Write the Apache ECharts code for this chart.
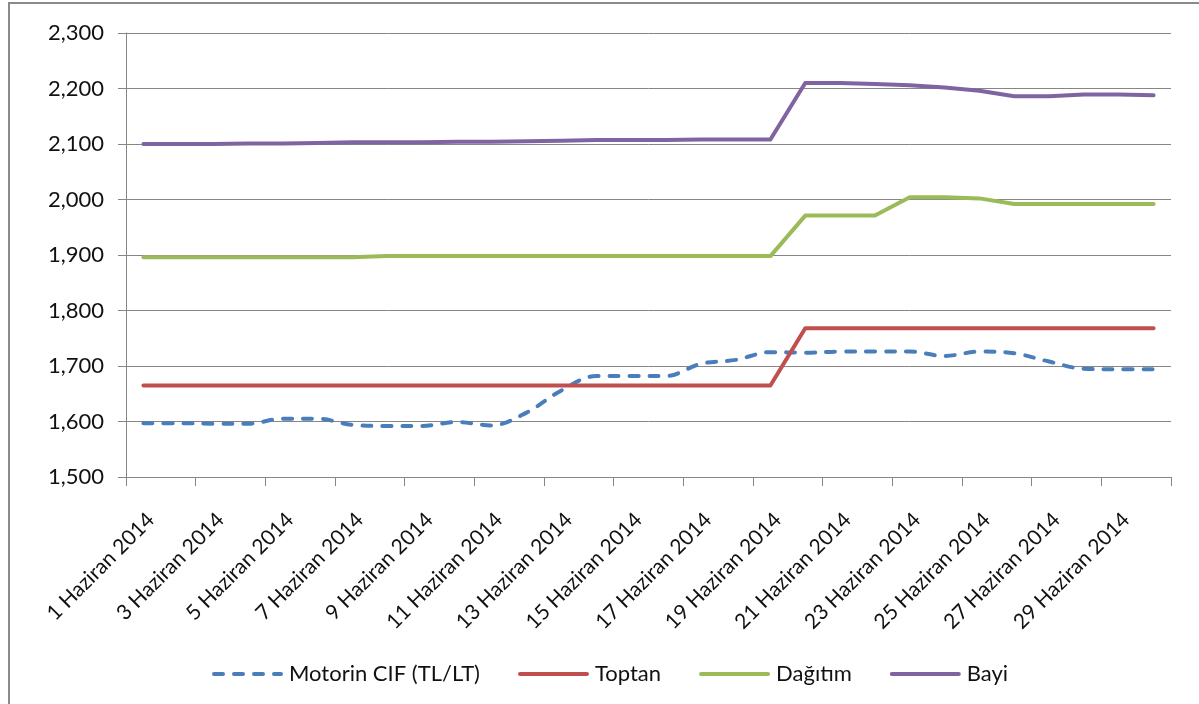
<!DOCTYPE html>
<html>
<head>
<meta charset="utf-8">
<script src="https://cdn.jsdelivr.net/npm/echarts@6/dist/echarts.min.js"></script>
<style>
  html, body { margin: 0; padding: 0; background: #fff; }
  #chart { width: 1199px; height: 704px; }
</style>
</head>
<body>
<div id="chart"></div>
<script>
var days = [];
for (var d = 1; d <= 30; d++) days.push(d + ' Haziran 2014');

var motorinCif = [1597, 1597, 1596, 1596, 1605, 1605, 1594, 1592, 1592, 1599,
                  1593, 1616, 1656, 1682, 1682, 1682, 1704, 1711, 1725, 1724,
                  1726, 1726, 1726, 1718, 1726, 1723, 1708, 1695, 1694, 1694];
var toptan = [1665, 1665, 1665, 1665, 1665, 1665, 1665, 1665, 1665, 1665,
              1665, 1665, 1665, 1665, 1665, 1665, 1665, 1665, 1665, 1768,
              1768, 1768, 1768, 1768, 1768, 1768, 1768, 1768, 1768, 1768];
var dagitim = [1896, 1896, 1896, 1896, 1896, 1896, 1896, 1898, 1898, 1898,
               1898, 1898, 1898, 1898, 1898, 1898, 1898, 1898, 1898, 1971,
               1971, 1971, 2004, 2004, 2002, 1992, 1992, 1992, 1992, 1992];
var bayi = [2100, 2100, 2100, 2101, 2101, 2102, 2103, 2103, 2103, 2104,
            2104, 2105, 2106, 2107, 2107, 2107, 2108, 2108, 2108, 2210,
            2210, 2208, 2206, 2202, 2196, 2186, 2186, 2189, 2189, 2188];

var FONT = 'Lato';
var GRAY = '#868686';

var chart = echarts.init(document.getElementById('chart'));

function line(name, data, color, extra) {
    var s = {
        name: name,
        type: 'line',
        data: data,
        symbol: 'none',
        showSymbol: false,
        lineStyle: {width: 4, color: color, cap: 'round', join: 'round'},
        itemStyle: {color: color}
    };
    return Object.assign(s, extra || {});
}

chart.setOption({
    animation: false,
    grid: {left: 126, right: 28, top: 33, bottom: 227},
    graphic: [
        // outer frame of the original figure
        {type: 'polyline', shape: {points: [[9, 704], [9, 3], [1199, 3]]},
         style: {stroke: '#8a8a8a', lineWidth: 2, fill: null}}
    ],
    legend: {
        left: 207,
        top: 658,
        itemWidth: 67,
        itemHeight: 14,
        itemGap: 38,
        selectedMode: false,
        itemStyle: {opacity: 0},
        lineStyle: {width: 4},
        textStyle: {fontFamily: FONT, fontSize: 22, color: '#111', padding: [0, 0, 0, 3]},
        data: ['Motorin CIF (TL/LT)', 'Toptan', 'Dağıtım', 'Bayi']
    },
    xAxis: {
        type: 'category',
        data: days,
        boundaryGap: true,
        axisLine: {lineStyle: {color: GRAY, width: 1}},
        axisTick: {show: true, interval: 1, length: 9, lineStyle: {color: GRAY}},
        axisLabel: {
            interval: 1,
            rotate: 45,
            margin: 32,
            verticalAlign: 'top',
            fontFamily: FONT,
            fontSize: 21,
            color: '#111'
        },
        splitLine: {show: false}
    },
    yAxis: {
        type: 'value',
        min: 1500,
        max: 2300,
        interval: 100,
        axisLine: {show: true, lineStyle: {color: GRAY, width: 1}},
        axisTick: {show: true, length: 8, lineStyle: {color: GRAY}},
        axisLabel: {
            margin: 22,
            fontFamily: FONT,
            fontSize: 22,
            color: '#111',
            formatter: function (v) { return v.toLocaleString('en-US'); }
        },
        splitLine: {lineStyle: {color: GRAY, width: 1}}
    },
    series: [
        line('Motorin CIF (TL/LT)', motorinCif, '#4A7EBB', {
            smooth: 0.35,
            lineStyle: {width: 4, color: '#4A7EBB', type: [9, 11], cap: 'round'}
        }),
        line('Toptan', toptan, '#C0504D'),
        line('Dağıtım', dagitim, '#9BBB59'),
        line('Bayi', bayi, '#8064A2')
    ]
});
</script>
</body>
</html>
